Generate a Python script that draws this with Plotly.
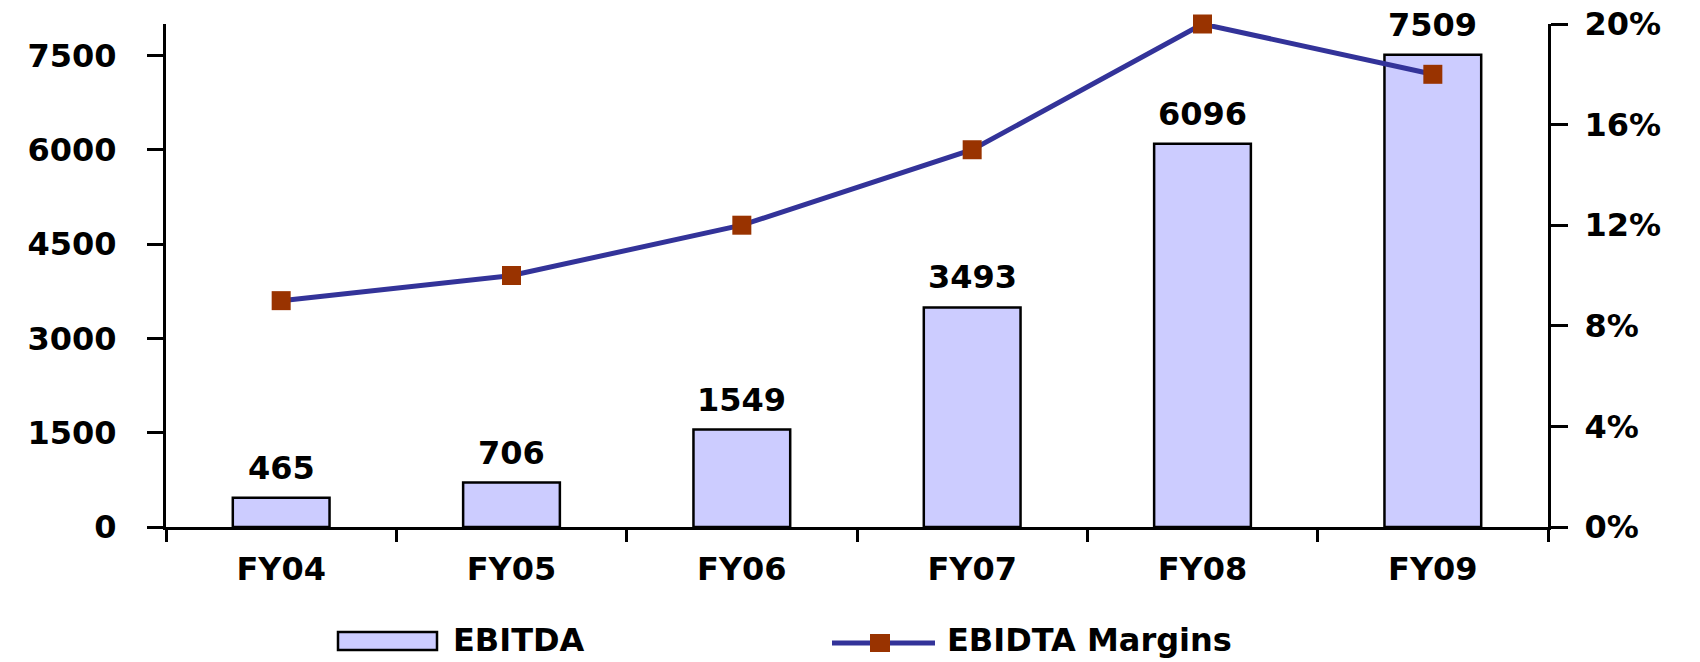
import plotly.graph_objects as go

years = ['FY04', 'FY05', 'FY06', 'FY07', 'FY08', 'FY09']
ebitda = [465, 706, 1549, 3493, 6096, 7509]
ebitda_margins = [0.09, 0.10, 0.12, 0.15, 0.20, 0.18]

font_family = 'DejaVu Sans, Verdana, sans-serif'
bar_color = '#CCCCFF'
line_color = '#333399'
marker_color = '#993300'

# figure fills the whole window (body margin removed in write_html below)
W, H = 1700, 662
L, R, T, B = 166, 152, 24, 135


def px(x):
    # window pixel -> paper x
    return (x - L) / (W - L - R)


def py(y):
    # window pixel -> paper y
    return (H - B - y) / (H - T - B)


fig = go.Figure()

fig.add_trace(
    go.Bar(
        x=years,
        y=ebitda,
        name='EBITDA',
        marker=dict(color=bar_color, line=dict(color='black', width=2.5)),
    )
)

fig.add_trace(
    go.Scatter(
        x=years,
        y=ebitda_margins,
        name='EBIDTA Margins',
        yaxis='y2',
        mode='lines+markers',
        line=dict(color=line_color, width=5),
        marker=dict(symbol='square', size=19, color=marker_color),
        cliponaxis=False,
    )
)

# value labels above the bars
for yr, val in zip(years, ebitda):
    fig.add_annotation(
        x=yr, y=val, text=str(val), showarrow=False,
        yanchor='bottom', yshift=9,
        font=dict(family=font_family, size=32, color='black', weight='bold'),
    )

# legend drawn by hand to get the wide swatches
legend_font = dict(family=font_family, size=32, color='black', weight='bold')
fig.add_shape(type='rect', xref='paper', yref='paper',
              x0=px(338), x1=px(437), y0=py(650), y1=py(632),
              fillcolor=bar_color, line=dict(color='black', width=2.5))
fig.add_annotation(xref='paper', yref='paper', x=px(451), y=py(640),
                   xanchor='left', yanchor='middle', showarrow=False,
                   text='EBITDA', font=legend_font)
fig.add_shape(type='line', xref='paper', yref='paper',
              x0=px(832), x1=px(935), y0=py(643), y1=py(643),
              line=dict(color=line_color, width=5))
fig.add_shape(type='rect', xref='paper', yref='paper',
              x0=px(870), x1=px(890), y0=py(652), y1=py(634),
              fillcolor=marker_color, line=dict(width=0))
fig.add_annotation(xref='paper', yref='paper', x=px(945), y=py(640),
                   xanchor='left', yanchor='middle', showarrow=False,
                   text='EBIDTA Margins', font=legend_font)

fig.update_layout(
    width=W,
    height=H,
    margin=dict(l=L, r=R, t=T, b=B, autoexpand=False),
    paper_bgcolor='white',
    plot_bgcolor='white',
    bargap=0.58,
    showlegend=False,
    font=dict(family=font_family, size=32, color='black', weight='bold'),
    xaxis=dict(
        showline=True,
        linecolor='black',
        linewidth=3,
        ticks='outside',
        tickson='boundaries',
        ticklen=12,
        tickwidth=3,
        tickcolor='black',
        showgrid=False,
        ticklabelstandoff=12,
        tickfont=dict(size=32),
        automargin=False,
    ),
    yaxis=dict(
        range=[0, 8000],
        tick0=0,
        dtick=1500,
        showline=True,
        linecolor='black',
        linewidth=3,
        ticks='outside',
        ticklen=16,
        tickwidth=3,
        tickcolor='black',
        showgrid=False,
        zeroline=False,
        ticklabelstandoff=24,
        ticklabeloverflow='allow',
        tickfont=dict(size=32),
        automargin=False,
    ),
    yaxis2=dict(
        range=[0, 0.2],
        tick0=0,
        dtick=0.04,
        tickformat='.0%',
        overlaying='y',
        side='right',
        showline=True,
        linecolor='black',
        linewidth=3,
        ticks='outside',
        ticklen=17,
        tickwidth=3,
        tickcolor='black',
        showgrid=False,
        zeroline=False,
        ticklabelstandoff=10,
        ticklabeloverflow='allow',
        tickfont=dict(size=32),
        automargin=False,
    ),
)

fig.write_html('out.html', config={'displayModeBar': False},
               post_script="document.body.style.margin = '0';")
